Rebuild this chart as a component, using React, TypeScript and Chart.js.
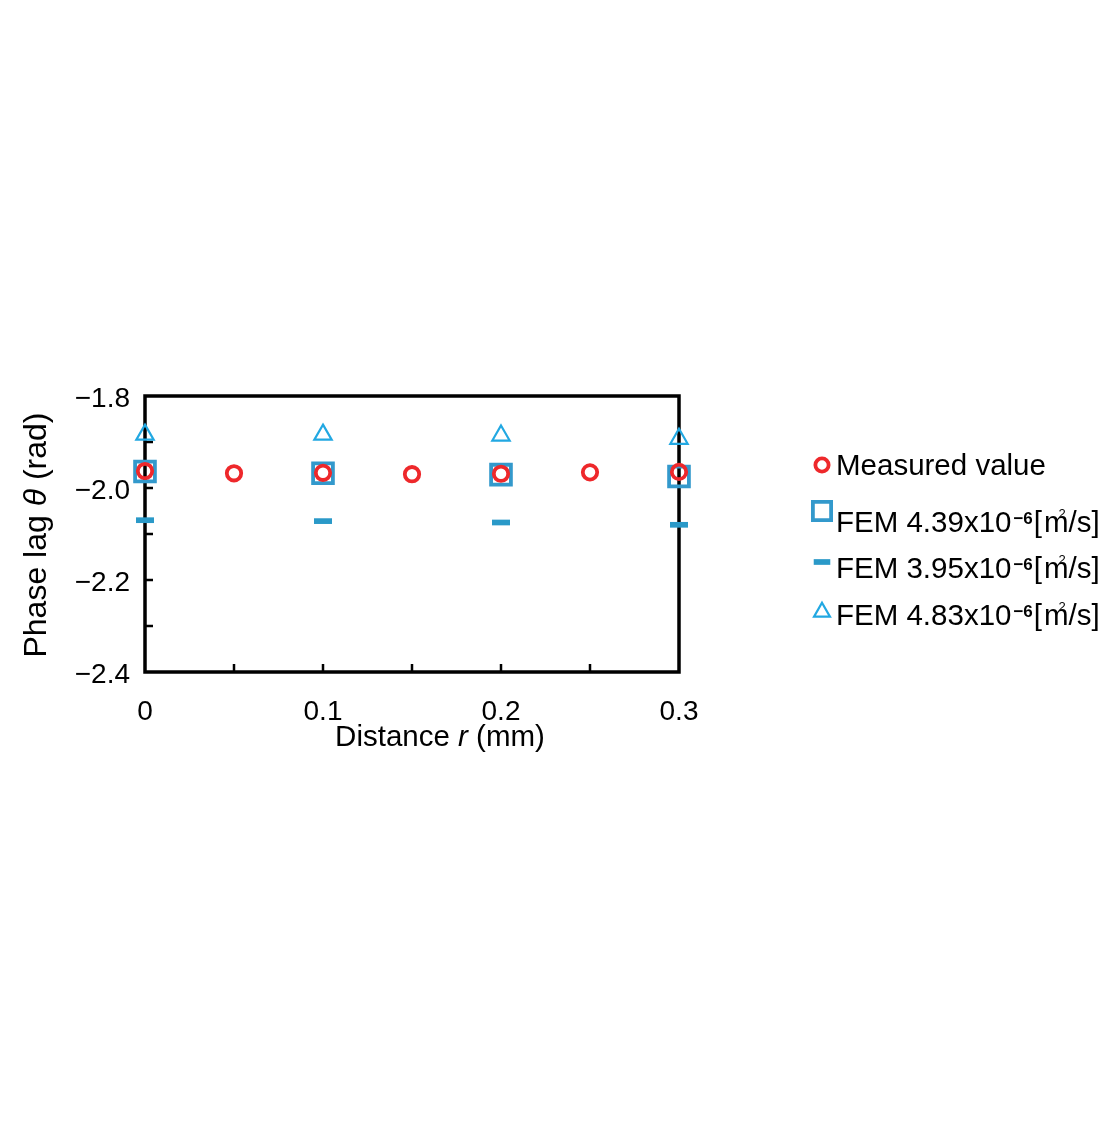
import { useEffect, useRef } from 'react'
import { Chart, registerables, type Plugin } from 'chart.js'

Chart.register(...registerables)

// --- data ---
const measuredR = [0, 0.05, 0.1, 0.15, 0.2, 0.25, 0.3]
const measuredTheta = [-1.963, -1.968, -1.967, -1.97, -1.969, -1.966, -1.965]

const femR = [0, 0.1, 0.2, 0.3]
const fem439 = [-1.964, -1.968, -1.971, -1.975]
const fem395 = [-2.07, -2.072, -2.075, -2.08]
const fem483 = [-1.884, -1.884, -1.886, -1.893]

const seriesNames = ['Measured value', 'FEM 4.39', 'FEM 3.95', 'FEM 4.83']

const xTicks = [0, 0.1, 0.2, 0.3]
const yTicks = [-2.4, -2.2, -2.0, -1.8]
const xMinorTicks = [0.05, 0.1, 0.15, 0.2, 0.25]
const yMinorTicks = [-2.3, -2.2, -2.1, -2.0, -1.9]

const FONT = '"Liberation Sans", Arial, Helvetica, sans-serif'

const RED = '#ee282b'
const SQUARE_BLUE = '#3399cc'
const DASH_BLUE = '#2a99c8'
const TRI_BLUE = '#22a8e2'

type MarkerDs = {
  label?: string
  pointStyle?: string
  pointRadius?: number
  pointBorderWidth?: number
  pointBorderColor?: string
}

function drawMarker(ctx: CanvasRenderingContext2D, ds: MarkerDs, x: number, y: number, k: number) {
  const r = (ds.pointRadius ?? 5) * k
  ctx.save()
  ctx.strokeStyle = ds.pointBorderColor ?? '#000'
  ctx.lineWidth = ds.pointBorderWidth ?? 1
  ctx.beginPath()
  switch (ds.pointStyle) {
    case 'rect': {
      const s = r * Math.SQRT1_2
      ctx.rect(x - s, y - s, 2 * s, 2 * s)
      break
    }
    case 'line':
      ctx.moveTo(x - r, y)
      ctx.lineTo(x + r, y)
      break
    case 'triangle':
      ctx.moveTo(x, y - r)
      ctx.lineTo(x + r * 0.866, y + r / 2)
      ctx.lineTo(x - r * 0.866, y + r / 2)
      ctx.closePath()
      break
    default:
      ctx.arc(x, y, r, 0, Math.PI * 2)
  }
  ctx.stroke()
  ctx.restore()
}

// frame round the plot and the inward minor ticks
const framePlugin: Plugin<'scatter'> = {
  id: 'frame',
  beforeDatasetsDraw(chart) {
    const { ctx, chartArea: a, scales } = chart
    ctx.save()
    ctx.strokeStyle = '#000'
    ctx.lineWidth = 2.5
    ctx.beginPath()
    for (const v of xMinorTicks) {
      const px = scales.x.getPixelForValue(v)
      ctx.moveTo(px, a.bottom)
      ctx.lineTo(px, a.bottom - 8)
    }
    for (const v of yMinorTicks) {
      const py = scales.y.getPixelForValue(v)
      ctx.moveTo(a.left, py)
      ctx.lineTo(a.left + 8, py)
    }
    ctx.stroke()
    ctx.lineWidth = 3.5
    ctx.strokeRect(a.left, a.top, a.width, a.height)
    ctx.restore()
  },
}

// axis titles with italic symbols, and the legend on the right
const labelsPlugin: Plugin<'scatter'> = {
  id: 'labels',
  afterDraw(chart) {
    const { ctx, chartArea: a } = chart
    ctx.save()
    ctx.fillStyle = '#000'
    ctx.textBaseline = 'alphabetic'
    ctx.textAlign = 'left'

    // x title
    const xParts: [string, string][] = [
      ['Distance ', `29.5px ${FONT}`],
      ['r', `italic 29.5px ${FONT}`],
      [' (mm)', `29.5px ${FONT}`],
    ]
    let w = 0
    for (const [t, f] of xParts) { ctx.font = f; w += ctx.measureText(t).width }
    let cx = (a.left + a.right) / 2 + 28 - w / 2
    for (const [t, f] of xParts) { ctx.font = f; ctx.fillText(t, cx, a.bottom + 74); cx += ctx.measureText(t).width }

    // y title
    const yParts: [string, string][] = [
      ['Phase lag ', `32px ${FONT}`],
      ['θ', `italic 32px ${FONT}`],
      [' (rad)', `32px ${FONT}`],
    ]
    w = 0
    for (const [t, f] of yParts) { ctx.font = f; w += ctx.measureText(t).width }
    ctx.save()
    ctx.translate(46, (a.top + a.bottom) / 2 + 1)
    ctx.rotate(-Math.PI / 2)
    let cy = -w / 2
    for (const [t, f] of yParts) { ctx.font = f; ctx.fillText(t, cy, 0); cy += ctx.measureText(t).width }
    ctx.restore()

    // legend
    const markerX = a.right + 143
    const textX = a.right + 157
    const rows = [
      { marker: 69, base: 79 },
      { marker: 115, base: 136 },
      { marker: 166, base: 182 },
      { marker: 216, base: 229 },
    ]
    chart.data.datasets.forEach((ds, i) => {
      const row = rows[i]
      drawMarker(ctx, ds as MarkerDs, markerX, a.top + row.marker, 0.92)
      const by = a.top + row.base
      let tx = textX
      ctx.fillStyle = '#000'
      ctx.font = `29.5px ${FONT}`
      if (i === 0) {
        ctx.fillText(ds.label ?? '', tx, by)
        return
      }
      const head = `${ds.label}x10`
      ctx.fillText(head, tx, by)
      tx += ctx.measureText(head).width + 2
      ctx.font = `bold 17px ${FONT}`
      ctx.fillText('−6', tx, by - 8)
      tx += ctx.measureText('−6').width + 1
      ctx.font = `29.5px ${FONT}`
      ctx.fillText('[', tx, by)
      tx += ctx.measureText('[').width + 2
      ctx.fillText('m', tx, by)
      const mw = ctx.measureText('m').width
      ctx.font = `13px ${FONT}`
      ctx.fillText('2', tx + mw - 10, by - 14)
      tx += mw
      ctx.font = `29.5px ${FONT}`
      ctx.fillText('/s]', tx, by)
    })
    ctx.restore()
  },
}

export default function App() {
  const canvasRef = useRef<HTMLCanvasElement>(null)
  const chartRef = useRef<Chart<'scatter'> | null>(null)

  useEffect(() => {
    if (!canvasRef.current) return

    const toPoints = (xs: number[], ys: number[]) => xs.map((x, i) => ({ x, y: ys[i] }))

    chartRef.current = new Chart(canvasRef.current, {
      type: 'scatter',
      data: {
        datasets: [
          {
            label: seriesNames[0],
            data: toPoints(measuredR, measuredTheta),
            pointStyle: 'circle',
            pointRadius: 7.2,
            pointBorderWidth: 3.8,
            pointBorderColor: RED,
            borderColor: RED,
            pointBackgroundColor: 'rgba(0,0,0,0)',
            clip: false,
            order: 0,
          },
          {
            label: seriesNames[1],
            data: toPoints(femR, fem439),
            pointStyle: 'rect',
            pointRadius: 14,
            pointBorderWidth: 3.8,
            pointBorderColor: SQUARE_BLUE,
            borderColor: SQUARE_BLUE,
            pointBackgroundColor: 'rgba(0,0,0,0)',
            clip: false,
            order: 1,
          },
          {
            label: seriesNames[2],
            data: toPoints(femR, fem395),
            pointStyle: 'line',
            pointRadius: 9,
            pointBorderWidth: 5.7,
            pointBorderColor: DASH_BLUE,
            borderColor: DASH_BLUE,
            clip: false,
            order: 2,
          },
          {
            label: seriesNames[3],
            data: toPoints(femR, fem483),
            pointStyle: 'triangle',
            pointRadius: 10,
            pointBorderWidth: 2.2,
            pointBorderColor: TRI_BLUE,
            borderColor: TRI_BLUE,
            pointBackgroundColor: 'rgba(0,0,0,0)',
            clip: false,
            order: 3,
          },
        ],
      },
      options: {
        responsive: false,
        maintainAspectRatio: false,
        animation: false,
        events: [],
        layout: { padding: { top: 396, left: 0, right: 441, bottom: 389 } },
        plugins: { legend: { display: false }, tooltip: { enabled: false } },
        scales: {
          x: {
            type: 'linear',
            position: 'bottom',
            min: 0,
            max: 0.3,
            grid: { display: false, drawTicks: false },
            border: { display: false },
            afterBuildTicks: (s) => { s.ticks = xTicks.map((value) => ({ value })) },
            afterFit: (s) => { s.height = 60 },
            ticks: {
              padding: 23,
              color: '#000',
              font: { family: FONT, size: 28 },
              callback: (v) => String(Number(Number(v).toFixed(2))),
            },
          },
          y: {
            type: 'linear',
            min: -2.4,
            max: -1.8,
            grid: { display: false, drawTicks: false },
            border: { display: false },
            afterBuildTicks: (s) => { s.ticks = yTicks.map((value) => ({ value })) },
            afterFit: (s) => { s.width = 145 },
            ticks: {
              padding: 15,
              labelOffset: 3,
              color: '#000',
              font: { family: FONT, size: 28 },
              callback: (v) => (Number(v) < 0 ? '−' : '') + Math.abs(Number(v)).toFixed(1),
            },
          },
        },
      },
      plugins: [framePlugin, labelsPlugin],
    })

    return () => {
      chartRef.current?.destroy()
      chartRef.current = null
    }
  }, [])

  return (
    <div style={{ position: 'absolute', left: 0, top: 0, width: 1120, height: 1121, background: '#fff' }}>
      <canvas ref={canvasRef} width={1120} height={1121} style={{ width: 1120, height: 1121 }} />
    </div>
  )
}
